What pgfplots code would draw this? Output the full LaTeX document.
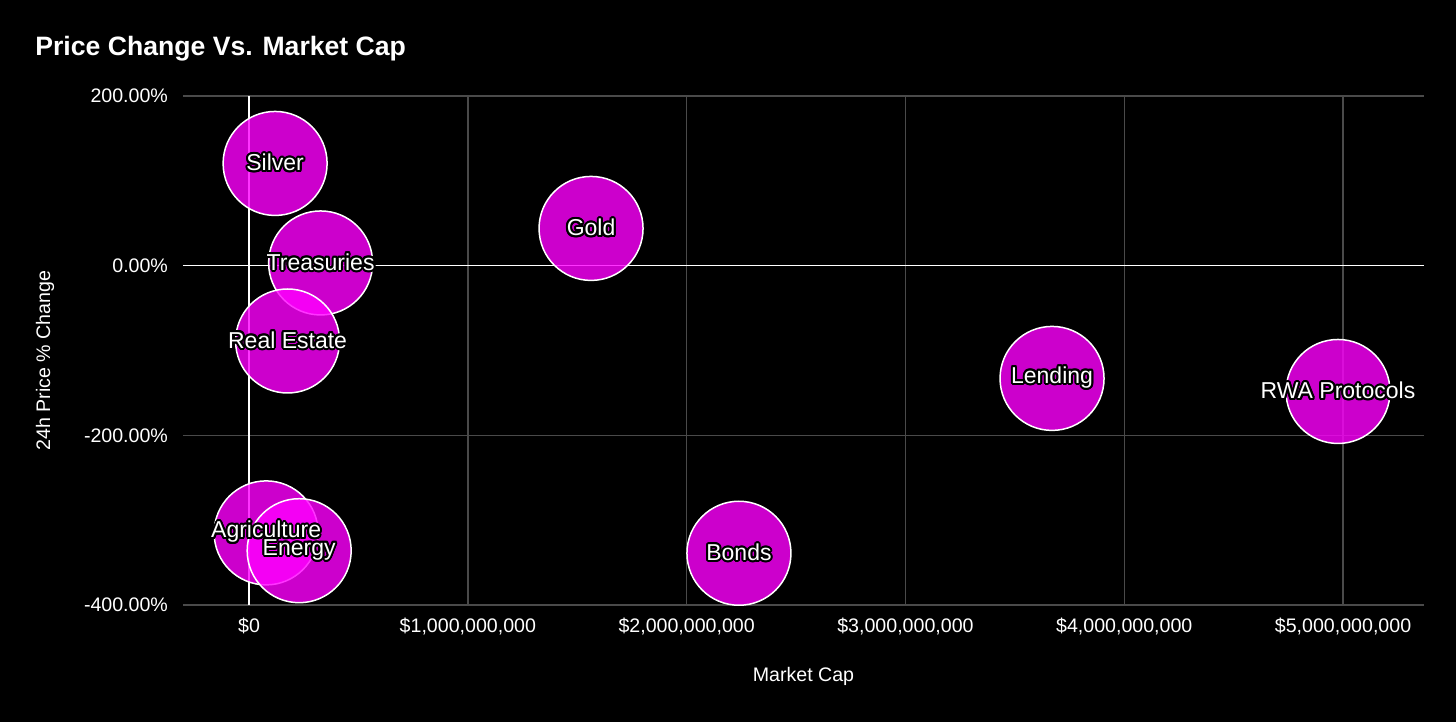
\documentclass[border=0pt]{standalone}
\usepackage{fontspec}
\setmainfont{Liberation Sans}
\usepackage{pgfplots}
\pgfplotsset{compat=1.18}
\usepackage{contour}
\contourlength{1.0pt}
\definecolor{bubble}{HTML}{FF00FF}
\definecolor{gridgray}{HTML}{4A4A4A}

\begin{document}
\begin{tikzpicture}
\fill[black] (0,0) rectangle (728pt,361pt);
\useasboundingbox (0,0) rectangle (728pt,361pt);
\node[anchor=base west, text=white, inner sep=0pt,
      font=\fontsize{13.3}{16}\selectfont\bfseries] at (17.5pt,333pt) {Price Change Vs. Market Cap};
\begin{axis}[
  at={(91.5pt,58.5pt)}, anchor=south west,
  width=620.5pt, height=254.5pt, scale only axis,
  xmin=-0.302, xmax=5.370, ymin=-400, ymax=200,
  axis line style={draw=none},
  major tick style={draw=none},
  xmajorgrids, ymajorgrids,
  grid style={gridgray, line width=0.7pt},
  xtick={0,1,2,3,4,5},
  xticklabels={\$0,{\$1,000,000,000},{\$2,000,000,000},{\$3,000,000,000},{\$4,000,000,000},{\$5,000,000,000}},
  ytick={-400,-200,0,200},
  yticklabels={-400.00\%,-200.00\%,0.00\%,200.00\%},
  ticklabel style={text=white, font=\fontsize{9.8}{12}\selectfont},
  xticklabel style={yshift=-3pt},
  yticklabel style={xshift=-4pt},
  xlabel={Market Cap},
  ylabel={24h Price \% Change},
  label style={text=white, font=\fontsize{9.8}{12}\selectfont},
  xlabel style={at={(axis description cs:0.5,0)}, anchor=center, yshift=-35.5pt},
  ylabel style={at={(axis description cs:0,0.5)}, anchor=center, yshift=69pt, xshift=-5pt},
  clip=false,
]
\draw[white, line width=0.7pt] (axis cs:-0.302,0) -- (axis cs:5.370,0);
\draw[white, line width=0.7pt] (axis cs:0,-400) -- (axis cs:0,200);

% bubbles
\addplot[only marks, mark=*, mark size=26pt,
  mark options={fill=bubble, fill opacity=0.8, draw=white, line width=0.75pt}]
  coordinates {
  (0.119,120.5) (0.327,3.2) (0.176,-88.8) (1.563,43.9)
  (3.670,-132.9) (4.977,-148.3) (0.078,-315) (0.229,-336) (2.239,-339)
};

% labels
\addplot[only marks, mark=none, point meta=explicit symbolic,
  nodes near coords={\contour{black}{\pgfplotspointmeta}},
  every node near coord/.append style={anchor=center, text=white,
    font=\fontsize{11.5}{13}\selectfont}]
  coordinates {
  (0.119,120.5) [Silver]
  (0.327,3.2) [Treasuries]
  (0.176,-88.8) [Real Estate]
  (1.563,43.9) [Gold]
  (3.670,-132.9) [Lending]
  (4.977,-148.3) [RWA Protocols]
  (0.078,-315) [Agriculture]
  (0.229,-336) [Energy]
  (2.239,-339) [Bonds]
};
\end{axis}
\end{tikzpicture}
\end{document}
